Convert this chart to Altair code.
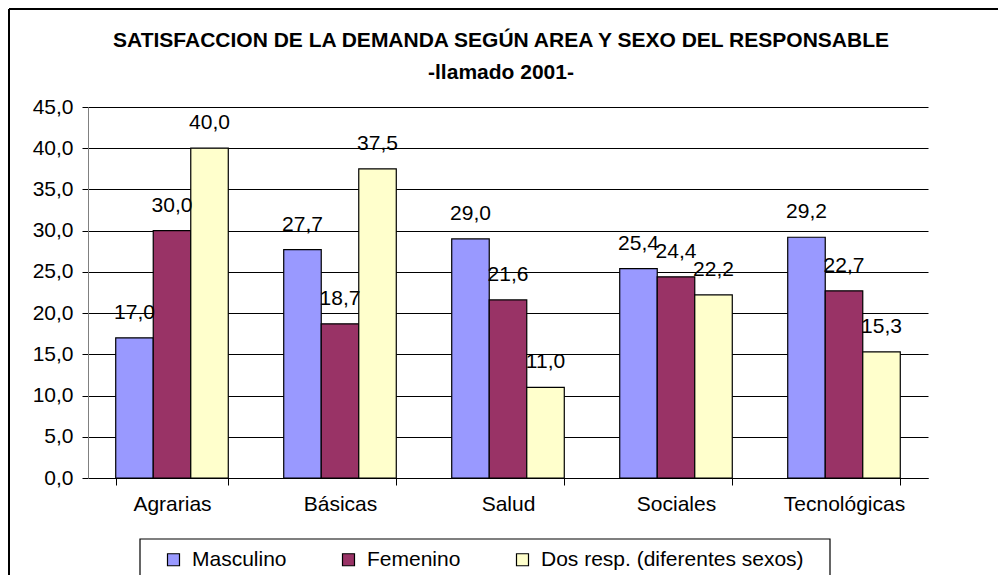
import altair as alt
import pandas as pd

categories = ["Agrarias", "Básicas", "Salud", "Sociales", "Tecnológicas"]
series = ["Masculino", "Femenino", "Dos resp. (diferentes sexos)"]
masculino = [17.0, 27.7, 29.0, 25.4, 29.2]
femenino = [30.0, 18.7, 21.6, 24.4, 22.7]
dos_resp = [40.0, 37.5, 11.0, 22.2, 15.3]
colors = ["#9999FF", "#993366", "#FFFFCC"]
title_lines = ["SATISFACCION DE LA DEMANDA SEGÚN AREA Y SEXO DEL RESPONSABLE", "-llamado 2001-"]

rows = []
for i, c in enumerate(categories):
    for s, vals in zip(series, [masculino, femenino, dos_resp]):
        rows.append({"area": c, "serie": s, "valor": vals[i]})
df = pd.DataFrame(rows)

FONT = "Liberation Sans"
FS = 21
W, H = 840, 371

x = alt.X("area:N", sort=categories, title=None,
          scale=alt.Scale(paddingInner=0.33, paddingOuter=0.165),
          axis=alt.Axis(labelAngle=0, labelFontSize=FS, labelFont=FONT, labelColor="black",
                        tickBand="extent", tickSize=7, tickColor="black", domainColor="black",
                        labelPadding=8))
xo = alt.XOffset("serie:N", sort=series, scale=alt.Scale(paddingInner=0, paddingOuter=0))
y = alt.Y("valor:Q", title=None,
          scale=alt.Scale(domain=[0, 45], nice=False),
          axis=alt.Axis(values=[0, 5, 10, 15, 20, 25, 30, 35, 40, 45],
                        labelExpr="replace(format(datum.value, '.1f'), '.', ',')",
                        labelFontSize=FS, labelFont=FONT, labelColor="black",
                        tickSize=6, tickColor="black", domainColor="#808080",
                        gridColor="black", gridWidth=1, labelPadding=9))

base = alt.Chart(df)

bars = base.mark_bar(stroke="black", strokeWidth=1.2).encode(
    x=x, xOffset=xo, y=y,
    color=alt.Color("serie:N", sort=series, title=None,
                    scale=alt.Scale(domain=series, range=colors),
                    legend=alt.Legend(orient="none", legendX=75, legendY=442,
                                      direction="horizontal", columns=3,
                                      symbolType="square", symbolSize=144,
                                      symbolStrokeColor="black", symbolStrokeWidth=1.2,
                                      labelFontSize=FS, labelFont=FONT, labelColor="black",
                                      labelLimit=500, columnPadding=51, padding=0,
                                      labelOffset=8)),
)

labels = base.transform_calculate(
    txt="replace(format(datum.valor, '.1f'), '.', ',')"
).mark_text(fontSize=FS, font=FONT, baseline="alphabetic", dy=-19, color="black").encode(
    x=x, xOffset=xo, y=y, text="txt:N"
)

dummy = pd.DataFrame({"a": [0]})
title1 = alt.Chart(dummy).mark_text(
    text=title_lines[0], font=FONT, fontSize=FS, fontWeight="bold", color="black",
    baseline="middle", align="center"
).encode(x=alt.value(413), y=alt.value(-66))
title2 = alt.Chart(dummy).mark_text(
    text=title_lines[1], font=FONT, fontSize=FS, fontWeight="bold", color="black",
    baseline="middle", align="center"
).encode(x=alt.value(413), y=alt.value(-34))

border_left = alt.Chart(dummy).mark_rule(color="black", strokeWidth=2).encode(
    x=alt.value(-79), y=alt.value(-98), y2=alt.value(490))
border_top = alt.Chart(dummy).mark_rule(color="black", strokeWidth=2).encode(
    x=alt.value(-79), x2=alt.value(915), y=alt.value(-98))
legend_box = alt.Chart(dummy).mark_rect(filled=False, stroke="black", strokeWidth=1.2).encode(
    x=alt.value(52), x2=alt.value(742), y=alt.value(432), y2=alt.value(474))

chart = alt.layer(legend_box, bars, labels, title1, title2, border_left, border_top).properties(
    width=W, height=H,
    autosize=alt.AutoSizeParams(type="none"),
    padding={"left": 80, "top": 99, "right": 70, "bottom": 97},
).configure_view(stroke=None).configure_axis(grid=True).configure_axisX(grid=False)

chart.save("out.html", embed_options={"renderer": "svg", "actions": False})
